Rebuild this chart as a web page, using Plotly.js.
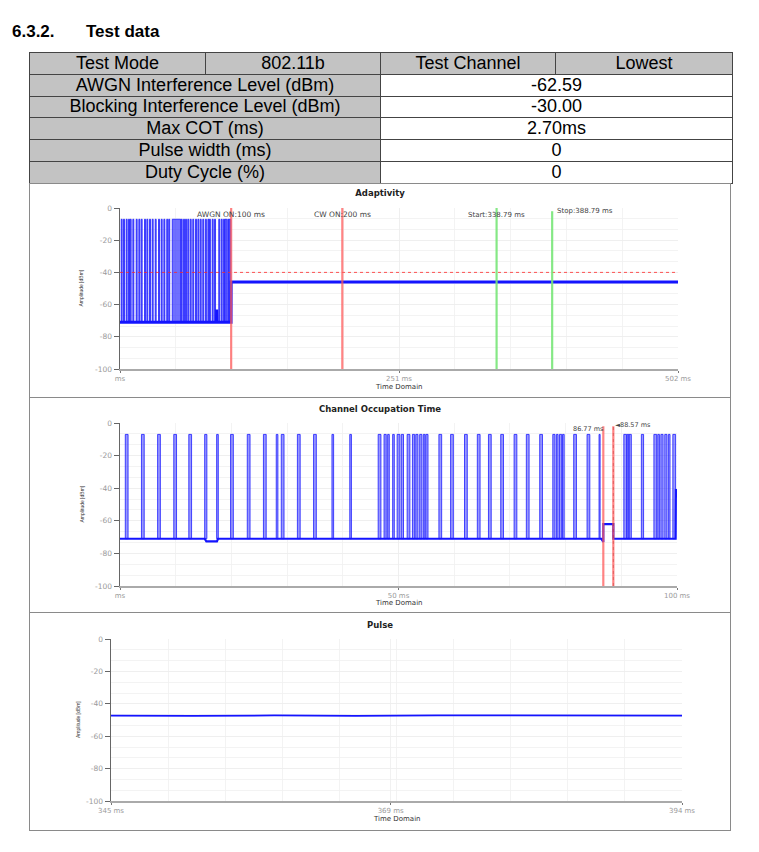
<!DOCTYPE html>
<html>
<head>
<meta charset="utf-8">
<script src="https://cdn.plot.ly/plotly-3.0.1.min.js"></script>
<style>
  html, body { margin: 0; padding: 0; background: #fff; }
  body { width: 759px; height: 852px; position: relative; overflow: hidden; font-family: "Liberation Sans", Arial, sans-serif; }
  .h { position: absolute; top: 22px; font-weight: bold; font-size: 17px; color: #000; }
  table { position: absolute; left: 29px; top: 52px; width: 703px; border-collapse: collapse; table-layout: fixed; }
  td { border: 1px solid #444; height: 20.8px; padding: 0; text-align: center; font-size: 18px; line-height: 19px; color: #000; overflow: hidden; white-space: nowrap; }
  td.g { background: #c3c3c3; }
  td.w { background: #fff; }
  .box { position: absolute; left: 29px; width: 702px; border: 1px solid #8a8a8a; box-sizing: border-box; }
  .chart { position: absolute; left: 29px; width: 702px; }
</style>
</head>
<body>
<div class="h" style="left:12px">6.3.2.</div>
<div class="h" style="left:86px">Test data</div>
<table id="tbl">
  <colgroup><col style="width:176px"><col style="width:175px"><col style="width:175px"><col style="width:177px"></colgroup>
  <tbody id="tbody"></tbody>
</table>
<div class="box" style="top:183px;height:215px"></div>
<div class="box" style="top:397px;height:216px"></div>
<div class="box" style="top:612px;height:219px"></div>
<div id="c1" class="chart" style="top:184px;height:213px"></div>
<div id="c2" class="chart" style="top:398px;height:214px"></div>
<div id="c3" class="chart" style="top:613px;height:217px"></div>
<script>
// ---------- table data ----------
const headerRow = ['Test Mode', '802.11b', 'Test Channel', 'Lowest'];
const paramLabels = ['AWGN Interference Level (dBm)', 'Blocking Interference Level (dBm)', 'Max COT (ms)', 'Pulse width (ms)', 'Duty Cycle (%)'];
const paramValues = ['-62.59', '-30.00', '2.70ms', '0', '0'];

// ---------- chart 1: Adaptivity ----------
const adRange = [0, 502];
const adTickVals = [0, 251, 502];
const adTickText = ['ms', '251 ms', '502 ms'];
const adPulseCenters = [1.5, 3.6, 6.0, 8.1, 9.6, 12.0, 15.0, 17.4, 19.5, 22.5, 24.6, 27.0, 29.4, 32.1, 35.1, 37.5, 39.9, 42.5, 44.3,
  50.8, 55.5, 57.6, 59.4, 61.4, 63.6, 65.9, 68.4, 70.5, 72.6, 74.9, 77.3, 79.5, 80.9, 83.4, 85.5, 89.3, 91.5, 93.6, 95.3, 97.4, 98.9];
const adPulseWidths = [0.9, 0.9, 0.9, 0.9, 0.9, 0.9, 0.9, 0.9, 0.9, 0.9, 0.9, 0.9, 0.9, 0.9, 0.9, 0.9, 0.9, 0.9, 0.9,
  7.6, 0.9, 0.9, 0.9, 0.9, 0.9, 0.9, 0.9, 0.9, 0.9, 0.9, 0.9, 0.9, 0.9, 0.9, 0.9, 0.9, 0.9, 0.9, 1.6, 0.9, 1.6];
const adPulseTop = -7;
const adPulseBase = -71;
const adBaseTimes  = [0, 86.8, 87.0, 87.2, 99.9, 100.0, 502];
const adBaseLevels = [-71, -71, -63, -71, -71, -46, -46];
const adThreshold = -40;
const adRedEvents = [100, 200];
const adRedLabels = ['AWGN ON:100 ms', 'CW ON:200 ms'];
const adGreenEvents = [338.79, 388.79];
const adGreenLabels = ['Start:338.79 ms', 'Stop:388.79 ms'];

// ---------- chart 2: Channel Occupation Time ----------
const cotRange = [0, 100];
const cotTickVals = [0, 50, 100];
const cotTickText = ['ms', '50 ms', '100 ms'];
const cotPulseCenters = [1.2, 4.1, 7.0, 9.9, 12.6, 15.4, 17.5, 20.1, 23.1, 26.0, 28.2, 29.2, 32.1, 35.0, 38.2, 41.4,
  46.6, 47.6, 48.2, 49.1, 50.0, 50.7, 51.8, 52.7, 53.3, 54.0, 54.6, 55.1, 57.5, 59.6, 62.1, 64.4, 66.4, 68.6, 71.0,
  73.2, 75.6, 77.9, 78.5, 79.1, 79.6, 81.7, 84.1, 86.1, 90.7, 91.2, 91.6, 93.8, 96.1, 96.7, 97.3, 98.0, 98.6, 99.5];
const cotPulseWidths = [0.5, 0.5, 0.5, 0.5, 0.5, 0.4, 0.3, 0.5, 0.5, 0.5, 0.3, 0.5, 0.5, 0.5, 0.3, 0.3,
  0.5, 0.4, 0.3, 0.3, 0.5, 0.4, 0.5, 0.4, 0.4, 0.4, 0.3, 0.4, 0.5, 0.5, 0.5, 0.5, 0.5, 0.5, 0.5,
  0.5, 0.5, 0.4, 0.3, 0.4, 0.3, 0.5, 0.5, 0.2, 0.5, 0.3, 0.4, 0.4, 0.5, 0.3, 0.4, 0.4, 0.3, 0.5];
const cotPulseTop = -7;
const cotPulseBase = -71;
const cotBaseTimes  = [0, 15.2, 15.5, 17.4, 17.6, 86.4, 86.77, 86.77, 88.57, 88.57, 99.75, 99.8, 99.95, 100];
const cotBaseLevels = [-71, -71, -72.6, -72.6, -71, -71, -73, -62, -62, -71, -71, -40.5, -45, -45];
const cotRedEvents = [86.77, 88.57];
const cotRedLabels = ['86.77 ms', '\u25C488.57 ms'];

// ---------- chart 3: Pulse ----------
const puRange = [345, 394];
const puTickVals = [345, 369, 394];
const puTickText = ['345 ms', '369 ms', '394 ms'];
const puTimes  = [345, 352, 359, 366, 373, 380, 387, 394];
const puLevels = [-47.3, -47.5, -47.2, -47.4, -47.1, -47.3, -47.2, -47.3];

// ---------- build table ----------
(function () {
  const tb = document.getElementById('tbody');
  let tr = document.createElement('tr');
  headerRow.forEach(t => { const td = document.createElement('td'); td.className = 'g'; td.textContent = t; tr.appendChild(td); });
  tb.appendChild(tr);
  paramLabels.forEach((lab, i) => {
    tr = document.createElement('tr');
    const a = document.createElement('td'); a.className = 'g'; a.colSpan = 2; a.textContent = lab;
    const b = document.createElement('td'); b.className = 'w'; b.colSpan = 2; b.textContent = paramValues[i];
    tr.appendChild(a); tr.appendChild(b); tb.appendChild(tr);
  });
})();

// ---------- helpers ----------
const FONT = '"Liberation Sans", Arial, sans-serif';
const DV = '"DejaVu Sans", sans-serif';
const BLUE = '#1414ff';
function pulseTrace(centers, widths, base, top, alpha) {
  return {
    type: 'bar', x: centers, width: widths, base: centers.map(() => base), y: centers.map(() => top - base),
    marker: { color: 'rgba(50,50,255,' + alpha + ')', line: { color: 'rgba(20,20,255,0.95)', width: 0.8 } },
    showlegend: false, hoverinfo: 'skip'
  };
}
function lineTrace(x, y, w) {
  return { type: 'scatter', mode: 'lines', x: x, y: y, line: { color: BLUE, width: w }, showlegend: false, hoverinfo: 'skip' };
}
function baseLayout(range, tv, tt, title, m, titleY, xDiv, ylabShift, xlabShift) {
  return {
    width: 702, height: m.h,
    margin: { l: m.l, r: m.r, t: m.t, b: m.b },
    paper_bgcolor: 'rgba(0,0,0,0)', plot_bgcolor: '#fff',
    barmode: 'overlay', bargap: 0,
    font: { family: DV, size: 7, color: '#999' },
    title: { text: title, font: { family: DV, size: 8.5, color: '#222', weight: 'bold' }, x: 0.5, xref: 'container', y: titleY, yref: 'container', yanchor: 'middle' },
    xaxis: {
      range: range, tickmode: 'array', tickvals: tv, ticktext: tt, ticks: 'outside', ticklen: 2, tickcolor: '#777',
      showline: true, linecolor: '#aaa', linewidth: 1.5, zeroline: false,
      showgrid: true, gridcolor: '#ededed', gridwidth: 0.8,
      minor: { dtick: xDiv, tick0: range[0], showgrid: true, gridcolor: '#f0f0f0', gridwidth: 0.8, ticks: '' },
      tickfont: { family: DV, size: 7, color: '#9a9a9a' }, fixedrange: true
    },
    yaxis: {
      range: [-100, 0], tickmode: 'array', tickvals: [0, -20, -40, -60, -80, -100], ticktext: ['0', '-20', '-40', '-60', '-80', '-100'],
      ticks: 'outside', ticklen: 5, tickcolor: '#666',
      showline: true, linecolor: '#666', linewidth: 1.5, zeroline: false,
      showgrid: true, gridcolor: '#ededed', gridwidth: 0.8,
      minor: { dtick: 100 / 15, tick0: 0, showgrid: true, gridcolor: '#f0f0f0', gridwidth: 0.8, ticks: '' },
      tickfont: { family: DV, size: 7.5, color: '#9a9a9a' }, fixedrange: true
    },
    shapes: [],
    annotations: [
      { text: 'Amplitude [dBm]', xref: 'paper', yref: 'paper', x: 0, y: 0.5, xshift: ylabShift, textangle: -90, showarrow: false, font: { family: FONT, size: 5, color: '#333' } },
      { text: 'Time Domain', xref: 'paper', yref: 'paper', x: 0.5, y: 0, yshift: xlabShift, yanchor: 'middle', showarrow: false, font: { family: DV, size: 7, color: '#333' } }
    ]
  };
}
const cfg = { staticPlot: true, displayModeBar: false };
const annFont = (s) => ({ family: DV, size: s, color: '#444' });

// ---------- chart 1 ----------
(function () {
  const L = baseLayout(adRange, adTickVals, adTickText, 'Adaptivity', { h: 213, l: 91, r: 53, t: 24, b: 28 }, 1 - 9 / 213, 50.2, -45, -18);
  L.shapes.push({ type: 'line', xref: 'x', yref: 'y', x0: adRange[0], x1: adRange[1], y0: adThreshold, y1: adThreshold, line: { color: '#ff2a2a', width: 0.8, dash: 'dot' } });
  adRedEvents.forEach((t, i) => {
    L.shapes.push({ type: 'line', xref: 'x', yref: 'y', x0: t, x1: t, y0: -100, y1: 0, line: { color: 'rgba(255,90,90,0.75)', width: 2.2 }, layer: 'above' });
    L.annotations.push({ text: adRedLabels[i], xref: 'x', yref: 'y', x: t, y: -3.8, showarrow: false, xanchor: 'center', font: annFont(7.5) });
  });
  adGreenEvents.forEach((t, i) => {
    L.shapes.push({ type: 'line', xref: 'x', yref: 'y', x0: t, x1: t, y0: -100, y1: i === 0 ? 0 : -2, line: { color: 'rgba(120,230,120,0.9)', width: 2.2 }, layer: 'above' });
  });
  L.annotations.push({ text: adGreenLabels[0], xref: 'x', yref: 'y', x: adGreenEvents[0], y: -4.2, showarrow: false, xanchor: 'center', font: annFont(7) });
  L.annotations.push({ text: adGreenLabels[1], xref: 'x', yref: 'y', x: adGreenEvents[1], y: -1.8, xshift: 3, showarrow: false, xanchor: 'left', font: annFont(7) });
  Plotly.newPlot('c1', [
    pulseTrace(adPulseCenters, adPulseWidths, adPulseBase, adPulseTop, 0.7),
    lineTrace(adBaseTimes, adBaseLevels, 3)
  ], L, cfg);
})();

// ---------- chart 2 ----------
(function () {
  const L = baseLayout(cotRange, cotTickVals, cotTickText, 'Channel Occupation Time', { h: 214, l: 91, r: 54, t: 25, b: 26 }, 1 - 11 / 214, 10, -44, -17);
  cotRedEvents.forEach((t) => {
    L.shapes.push({ type: 'line', xref: 'x', yref: 'y', x0: t, x1: t, y0: -100, y1: -2, line: { color: 'rgba(255,90,90,0.75)', width: 2.2 }, layer: 'above' });
  });
  L.shapes.push({ type: 'line', xref: 'x', yref: 'y', x0: cotRedEvents[1], x1: cotRedEvents[1], y0: -100, y1: -2, line: { color: 'rgba(170,30,30,0.6)', width: 0.6, dash: 'dot' }, layer: 'above' });
  L.annotations.push({ text: cotRedLabels[0], xref: 'x', yref: 'y', x: cotRedEvents[0], y: -3.7, showarrow: false, xanchor: 'right', xshift: 3, font: annFont(6.5) });
  L.annotations.push({ text: cotRedLabels[1], xref: 'x', yref: 'y', x: cotRedEvents[1], y: -1.3, showarrow: false, xanchor: 'left', xshift: 0, font: annFont(6.5) });
  Plotly.newPlot('c2', [
    pulseTrace(cotPulseCenters, cotPulseWidths, cotPulseBase, cotPulseTop, 0.5),
    lineTrace(cotBaseTimes, cotBaseLevels, 2.2)
  ], L, cfg);
})();

// ---------- chart 3 ----------
(function () {
  const L = baseLayout(puRange, puTickVals, puTickText, 'Pulse', { h: 217, l: 82, r: 49, t: 26, b: 29 }, 1 - 12 / 217, 4.9, -38, -18);
  Plotly.newPlot('c3', [lineTrace(puTimes, puLevels, 1.8)], L, cfg);
})();
</script>
</body>
</html>
